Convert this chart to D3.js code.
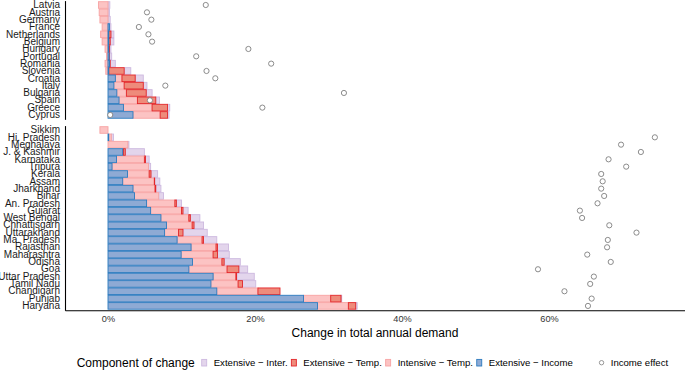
<!DOCTYPE html>
<html>
<head>
<meta charset="utf-8">
<script src="https://cdn.jsdelivr.net/npm/d3@7"></script>
<style>
  body { margin: 0; background: #fff; }
  text { font-family: "Liberation Sans", Arial, Helvetica, sans-serif; }
</style>
</head>
<body>
<div id="chart"></div>
<script>
// ==========================
// Data (values in % change of total annual demand)
// ==========================
const topRegions = ["Latvia", "Austria", "Germany", "France", "Netherlands", "Belgium", "Hungary",
    "Portugal", "Romania", "Slovenia", "Croatia", "Italy", "Bulgaria", "Spain", "Greece", "Cyprus"];
const topIncome   = [0, 0, 0, 0.2, 0.1, 0.1, 0.1, 0.15, 0.2, 0.1, 1.0, 0.8, 1.2, 1.5, 2.1, 3.4];
const topIntTemp  = [-1.3, -1.2, -1.1, -0.8, -1.0, -0.8, -0.4, -0.2, -0.4, -0.3, 0.9, 1.4, 1.3, 2.5, 3.9, 3.7];
const topExtTemp  = [0, 0, 0, 0, 0.3, 0.2, 0.1, 0.05, 0.1, 2.1, 1.8, 2.6, 2.7, 2.5, 2.1, 1.0];
const topInter    = [0.25, 0.2, 0.3, 0.2, 0.4, 0.5, 0.2, 0.3, 0.7, 0.9, 1.1, 0.5, 0.8, 0.5, 0.3, 0.2];
const topEffect   = [13.3, 5.3, 5.9, 4.2, 5.5, 6.0, 19.1, 12.0, 22.2, 13.4, 14.6, 7.8, 32.1, 5.7, 21.0, 0.3];

const bottomRegions = ["Sikkim", "Hi. Pradesh", "Meghalaya", "J. & Kashmir", "Karnataka", "Tripura",
    "Kerala", "Assam", "Jharkhand", "Bihar", "An. Pradesh", "Gujarat", "West Bengal", "Chhattisgarh",
    "Uttarakhand", "Ma. Pradesh", "Rajasthan", "Maharashtra", "Odisha", "Goa", "Uttar Pradesh",
    "Tamil Nadu", "Chandigarh", "Punjab", "Haryana"];
const bottomIncome  = [0, 0.1, 0, 2.0, 1.15, 0.55, 2.65, 2.0, 3.4, 3.6, 5.25, 5.8, 7.2, 7.95, 7.7, 9.4,
    11.3, 9.95, 11.5, 11.0, 14.3, 14.0, 14.8, 26.6, 28.5];
const bottomIntTemp = [-1.1, 0.35, 2.7, 0.1, 3.8, 4.95, 2.95, 4.3, 3.0, 3.3, 3.85, 4.2, 3.8, 3.5, 1.9, 3.4,
    3.4, 4.35, 4.0, 5.2, 3.1, 3.7, 5.6, 3.7, 4.2];
const bottomExtTemp = [0, 0, 0, 0.25, 0.15, 0, 0.25, 0.05, 0.1, 0, 0.2, 0.2, 0.2, 0.25, 0.6, 0.2,
    0.2, 0.6, 0.3, 1.6, 0.1, 0.6, 3.0, 1.4, 1.0];
const bottomInter   = [0, 0.3, 0.15, 2.6, 0.5, 0.3, 0.9, 0.7, 0.7, 0.65, 0.7, 0.7, 1.3, 1.3, 3.3, 1.8,
    1.5, 1.6, 2.2, 1.2, 2.4, 1.8, 0, 0.1, 0.2];
const bottomEffect  = [null, 74.4, 69.8, 72.5, 68.1, 70.5, 67.1, 67.3, 67.1, 67.5, 66.6, 64.2, 64.5, 68.2,
    71.9, 68.0, 67.9, 65.2, 68.4, 58.5, 66.1, 65.6, 62.1, 65.8, 65.3];

const xTicks = [0, 20, 40, 60];

// ==========================
// Constants & Dimensions
// ==========================
const width = 685;
const height = 374;
const plotLeft = 65;
const plotRight = 685;
const rowStep = 7.33;

// stacking order from zero outwards, draw order handled separately
const components = [
    { key: "income", label: "Extensive \u2212 Income", fill: "#8eaad4", stroke: "#2c7bbf" },
    { key: "intTemp", label: "Intensive \u2212 Temp.", fill: "#fcc3c3", stroke: "#f7a3a3" },
    { key: "extTemp", label: "Extensive \u2212 Temp.", fill: "#ee8b7b", stroke: "#e3262a" },
    { key: "inter", label: "Extensive \u2212 Inter.", fill: "#e3d5ec", stroke: "#cdb9df" }
];
const drawOrder = ["inter", "intTemp", "extTemp", "income"];
const legendOrder = ["inter", "extTemp", "intTemp", "income"];

function buildRows(regions, income, intTemp, extTemp, inter, effect) {
    return regions.map((name, i) => ({
        name: name,
        values: { income: income[i], intTemp: intTemp[i], extTemp: extTemp[i], inter: inter[i] },
        effect: effect[i]
    }));
}

const panels = [
    { rows: buildRows(topRegions, topIncome, topIntTemp, topExtTemp, topInter, topEffect), top: 0.6 },
    { rows: buildRows(bottomRegions, bottomIncome, bottomIntTemp, bottomExtTemp, bottomInter, bottomEffect), top: 125.6 }
];

// ==========================
// SVG Canvas
// ==========================
const svg = d3.select("#chart")
    .append("svg")
    .attr("width", width)
    .attr("height", height);

const x = d3.scaleLinear()
    .domain([-5.85, 78.5])
    .range([plotLeft, plotRight]);

// ==========================
// Panels
// ==========================
panels.forEach(panel => {
    const n = panel.rows.length;
    panel.bottom = panel.top + (n + 0.2) * rowStep;

    const y = d3.scaleBand()
        .domain(panel.rows.map(d => d.name))
        .range([panel.top, panel.bottom])
        .paddingInner(0.1)
        .paddingOuter(0.15);

    // stack segments: positives go right, negatives go left
    const segments = [];
    panel.rows.forEach(row => {
        let pos = 0, neg = 0;
        components.forEach(c => {
            const v = row.values[c.key];
            if (!v) return;
            if (v > 0) {
                segments.push({ name: row.name, comp: c, x0: pos, x1: pos + v });
                pos += v;
            } else {
                segments.push({ name: row.name, comp: c, x0: neg + v, x1: neg });
                neg += v;
            }
        });
    });
    segments.sort((a, b) => drawOrder.indexOf(a.comp.key) - drawOrder.indexOf(b.comp.key));

    const g = svg.append("g");

    g.selectAll("rect.seg")
        .data(segments)
        .enter()
        .append("rect")
        .attr("class", "seg")
        .attr("x", d => x(d.x0))
        .attr("y", d => y(d.name))
        .attr("width", d => x(d.x1) - x(d.x0))
        .attr("height", y.bandwidth())
        .attr("fill", d => d.comp.fill)
        .attr("stroke", d => d.comp.stroke)
        .attr("stroke-width", 0.9);

    // income effect points
    g.selectAll("circle.effect")
        .data(panel.rows.filter(d => d.effect != null))
        .enter()
        .append("circle")
        .attr("class", "effect")
        .attr("cx", d => x(d.effect))
        .attr("cy", d => y(d.name) + y.bandwidth() / 2)
        .attr("r", 2.6)
        .attr("fill", "white")
        .attr("stroke", "#7f7f7f")
        .attr("stroke-width", 0.9);

    // left axis
    const yAxis = svg.append("g")
        .attr("transform", `translate(${plotLeft},0)`)
        .call(d3.axisLeft(y).tickSize(0).tickPadding(5));
    yAxis.select(".domain").attr("stroke", "#000").attr("stroke-width", 1.1);
    yAxis.selectAll("text")
        .attr("font-size", 10)
        .attr("fill", "#1a1a1a")
        .attr("font-family", "Liberation Sans, Arial, sans-serif");
});

// ==========================
// Bottom axis
// ==========================
const lastPanel = panels[panels.length - 1];
const xAxis = svg.append("g")
    .attr("transform", `translate(0,${lastPanel.bottom})`)
    .call(d3.axisBottom(x).tickValues(xTicks).tickFormat(d => d + "%").tickSize(0).tickSizeOuter(0).tickPadding(5.5));
xAxis.select(".domain").attr("stroke", "#000").attr("stroke-width", 1.1);
xAxis.selectAll("text")
    .attr("font-size", 9.2)
    .attr("fill", "#333")
    .attr("font-family", "Liberation Sans, Arial, sans-serif");

svg.append("text")
    .attr("x", (plotLeft + plotRight) / 2)
    .attr("y", 337)
    .attr("text-anchor", "middle")
    .attr("font-size", 12)
    .attr("fill", "#000")
    .text("Change in total annual demand");

// ==========================
// Legend
// ==========================
const legend = svg.append("g");
const legendY = 362.7;

legend.append("text")
    .attr("x", 76.7)
    .attr("y", legendY + 4.2)
    .attr("font-size", 12)
    .text("Component of change");

let cursor = 201.7;
legendOrder.forEach(key => {
    const c = components.find(d => d.key === key);
    legend.append("rect")
        .attr("x", cursor)
        .attr("y", legendY - 3.3)
        .attr("width", 5)
        .attr("height", 6.6)
        .attr("fill", c.fill)
        .attr("stroke", c.stroke)
        .attr("stroke-width", 0.9);
    const t = legend.append("text")
        .attr("x", cursor + 12)
        .attr("y", legendY + 3.4)
        .attr("font-size", 9.6)
        .text(c.label);
    cursor += 12 + t.node().getComputedTextLength() + 3.8;
});

const circleX = cursor + 25;
legend.append("circle")
    .attr("cx", circleX)
    .attr("cy", legendY)
    .attr("r", 2.2)
    .attr("fill", "white")
    .attr("stroke", "#7f7f7f")
    .attr("stroke-width", 0.8);
legend.append("text")
    .attr("x", circleX + 9.2)
    .attr("y", legendY + 3.4)
    .attr("font-size", 9.6)
    .text("Income effect");
</script>
</body>
</html>
